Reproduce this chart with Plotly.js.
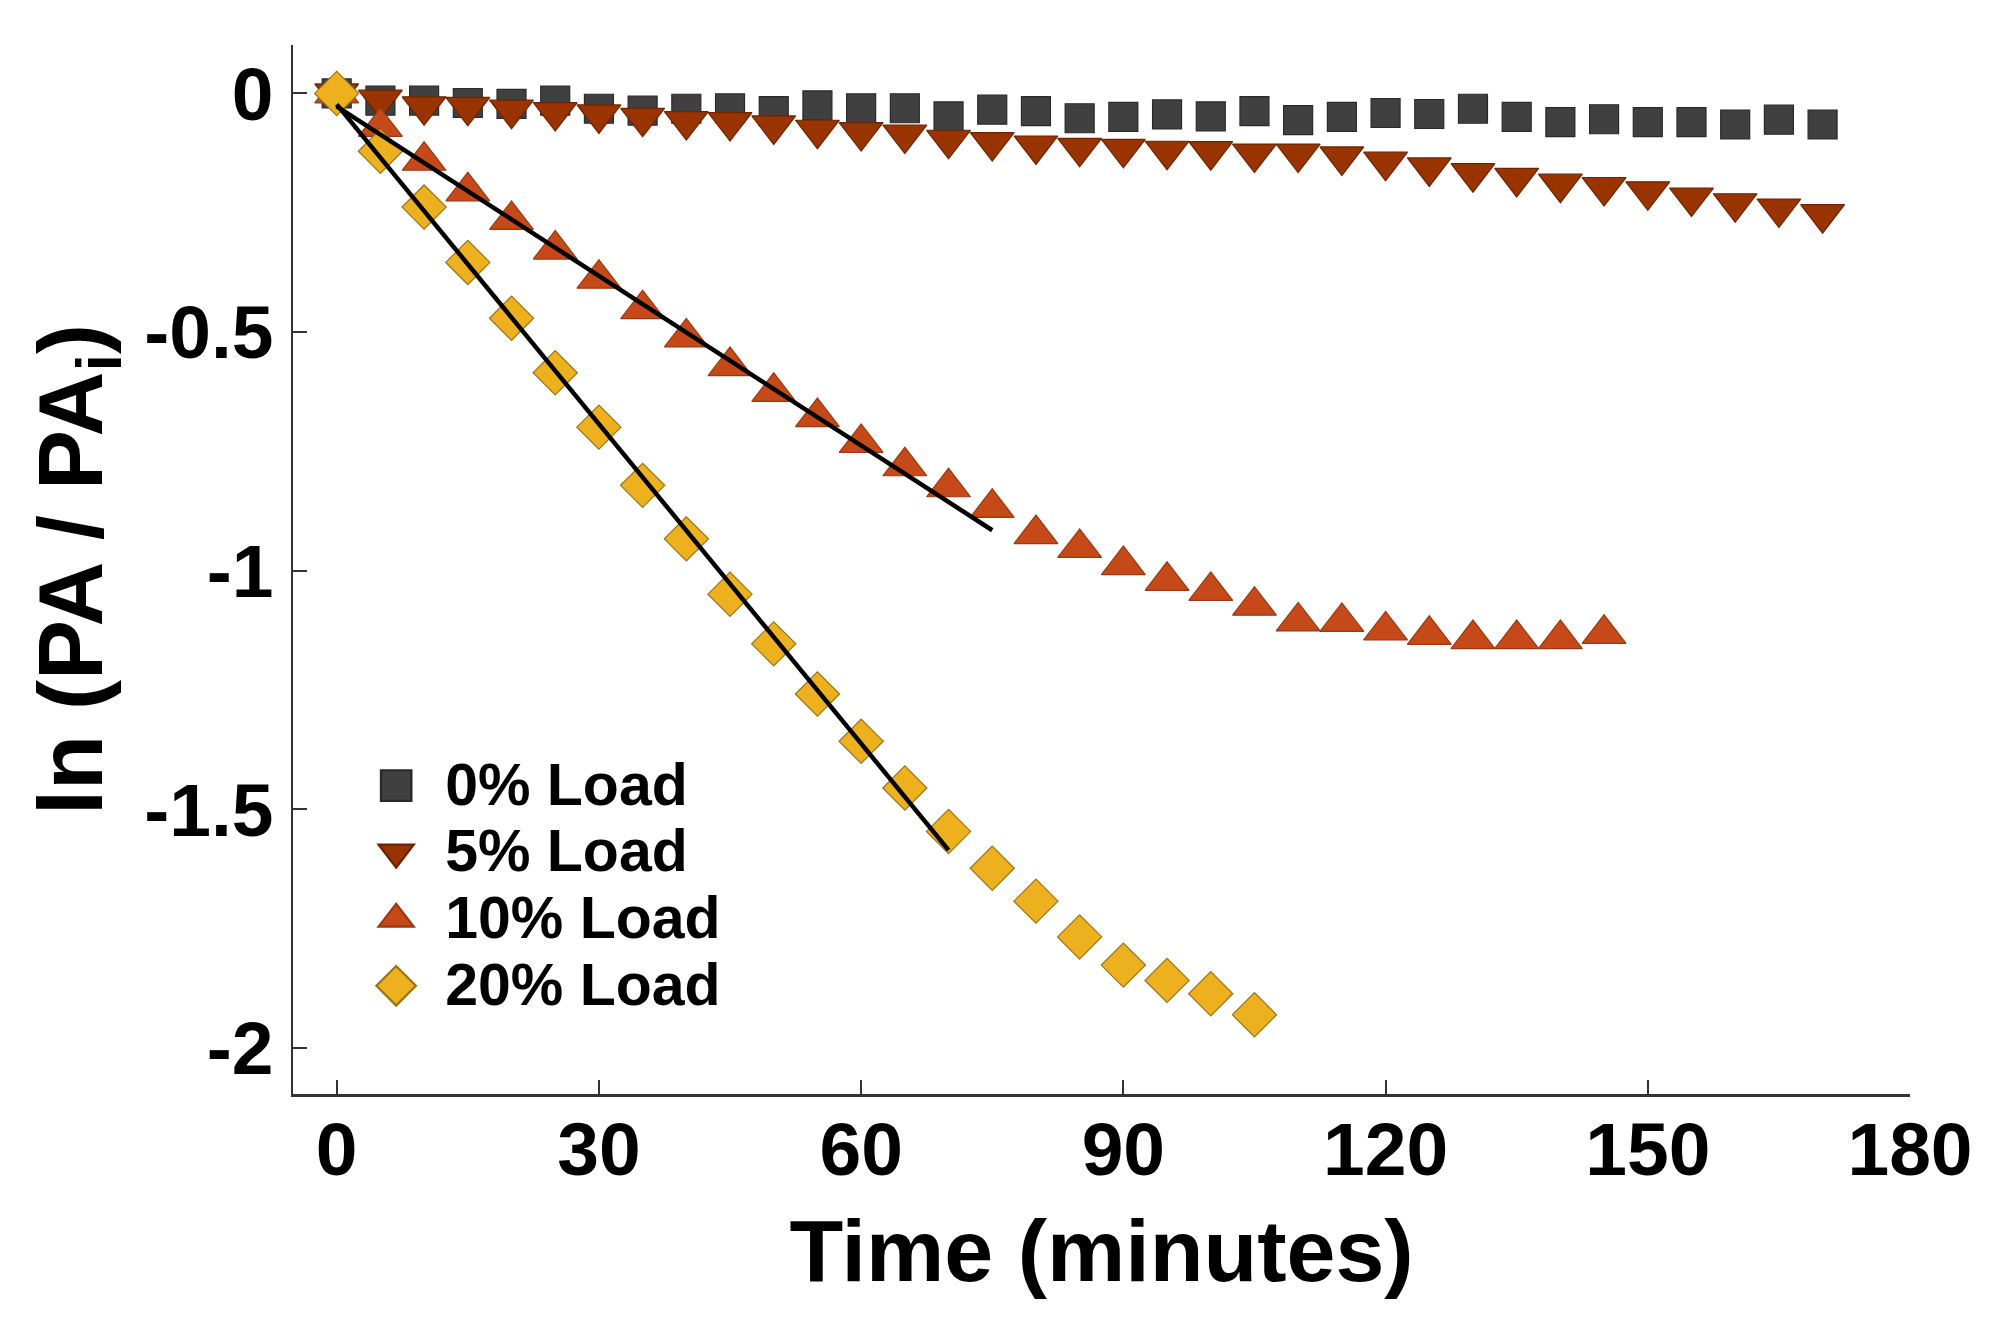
<!DOCTYPE html>
<html>
<head>
<meta charset="utf-8">
<script src="https://cdn.plot.ly/plotly-3.0.1.min.js"></script>
<style>
  html, body {margin: 0; padding: 0; background: #fff;}
  #chart {width: 1991px; height: 1337px;}
</style>
</head>
<body>
<div id="chart"></div>
<script>
// time in minutes, one sample every 5 min
var time0 = [0, 5, 10, 15, 20, 25, 30, 35, 40, 45, 50, 55, 60, 65, 70, 75, 80, 85,
             90, 95, 100, 105, 110, 115, 120, 125, 130, 135, 140, 145, 150, 155, 160, 165, 170];
var time5 = time0;
var time10 = [0, 5, 10, 15, 20, 25, 30, 35, 40, 45, 50, 55, 60, 65, 70, 75, 80, 85,
              90, 95, 100, 105, 110, 115, 120, 125, 130, 135, 140, 145];
var time20 = [0, 5, 10, 15, 20, 25, 30, 35, 40, 45, 50, 55, 60, 65, 70, 75, 80, 85,
              90, 95, 100, 105];

// ln(PA / PAi)
var load0 = [0, -0.015, -0.015, -0.020, -0.022, -0.015, -0.032, -0.036, -0.032, -0.031,
             -0.037, -0.025, -0.031, -0.031, -0.048, -0.034, -0.037, -0.052, -0.049, -0.044,
             -0.048, -0.037, -0.056, -0.049, -0.041, -0.043, -0.032, -0.049, -0.060, -0.054,
             -0.060, -0.060, -0.065, -0.055, -0.065];
var load5 = [0, -0.013, -0.027, -0.028, -0.034, -0.039, -0.044, -0.051, -0.058, -0.060,
             -0.067, -0.076, -0.081, -0.086, -0.097, -0.102, -0.109, -0.114, -0.116, -0.120,
             -0.121, -0.126, -0.126, -0.132, -0.143, -0.155, -0.167, -0.177, -0.189, -0.196,
             -0.205, -0.218, -0.230, -0.241, -0.253];
var load10 = [0, -0.070, -0.141, -0.205, -0.265, -0.327, -0.388, -0.452, -0.511, -0.571,
              -0.625, -0.678, -0.732, -0.781, -0.825, -0.868, -0.923, -0.952, -0.988, -1.021,
              -1.042, -1.073, -1.106, -1.107, -1.125, -1.134, -1.143, -1.143, -1.143, -1.132];
var load20 = [0, -0.121, -0.238, -0.354, -0.471, -0.585, -0.699, -0.821, -0.933, -1.049,
              -1.153, -1.258, -1.357, -1.455, -1.546, -1.623, -1.692, -1.767, -1.826, -1.858,
              -1.886, -1.930];

// linear fits (end points)
var fit10x = [0, 75];
var fit10y = [-0.027, -0.915];
var fit20x = [0, 70];
var fit20y = [-0.023, -1.585];

var names = ['0% Load', '5% Load', '10% Load', '20% Load'];

var FONT = 'Liberation Sans, Arial, sans-serif';

// legend rows are spaced from legend.font.size, the label itself is drawn a bit bigger
function label(s) {
   return '<span style="font-size:59px">' + s + '</span>';
}

function pts(x, y, name, symbol, size, color, edge) {
   return {x: x, y: y, type: 'scatter', mode: 'markers', name: label(name),
           marker: {symbol: symbol, size: size, color: color,
                    line: {color: edge, width: 1.2}}};
}
function fit(x, y) {
   return {x: x, y: y, type: 'scatter', mode: 'lines', showlegend: false,
           line: {color: '#000', width: 4.5}, hoverinfo: 'skip'};
}

var data = [
   pts(time0, load0, names[0], 'square', 29, '#404040', '#2a2a2a'),
   pts(time5, load5, names[1], 'triangle-down', 38, '#993300', '#6e2400'),
   pts(time10, load10, names[2], 'triangle-up', 38, '#c64a19', '#9c3810'),
   pts(time20, load20, names[3], 'diamond', 34, '#edb120', '#9a7418'),
   fit(fit10x, fit10y),
   fit(fit20x, fit20y)
];

var layout = {
   width: 1991, height: 1337,
   margin: {l: 293, r: 81, t: 45, b: 243},
   paper_bgcolor: '#fff', plot_bgcolor: '#fff',
   font: {family: FONT, color: '#000', weight: 'bold'},
   showlegend: true,
   legend: {x: 0.0335, y: 0.3305, xanchor: 'left', yanchor: 'top',
            itemwidth: 88, bgcolor: 'rgba(0,0,0,0)',
            font: {size: 49, family: FONT, weight: 'bold', color: '#000'}},
   xaxis: {
      range: [-5, 180], tickvals: [0, 30, 60, 90, 120, 150, 180],
      showgrid: false, zeroline: false,
      showline: true, linecolor: '#333', linewidth: 2.5, mirror: false,
      ticks: 'inside', ticklen: 14, tickwidth: 2, tickcolor: '#333',
      tickfont: {size: 75, family: FONT, weight: 'bold'},
      ticklabelstandoff: -12,
      title: {text: 'Time (minutes)', standoff: 30,
              font: {size: 88, family: FONT, weight: 'bold'}}
   },
   yaxis: {
      range: [-2.096, 0.1015], tickvals: [0, -0.5, -1, -1.5, -2],
      ticktext: ['0', '-0.5', '-1', '-1.5', '-2'],
      showgrid: false, zeroline: false,
      showline: true, linecolor: '#333', linewidth: 2.5, mirror: false,
      ticks: 'inside', ticklen: 14, tickwidth: 2, tickcolor: '#333',
      tickfont: {size: 75, family: FONT, weight: 'bold'},
      ticklabelstandoff: 2,
      title: {text: 'ln (PA / PA<sub>i</sub>)', standoff: 12,
              font: {size: 90, family: FONT, weight: 'bold'}}
   }
};

Plotly.newPlot('chart', data, layout, {displayModeBar: false, staticPlot: true}).then(function (gd) {
   // legend symbols are capped at 16px by plotly; enlarge them to match the plot markers
   var syms = gd.querySelectorAll('.legend .legendpoints path.scatterpts');
   for (var i = 0; i < syms.length; i++) {
      var t = syms[i].getAttribute('transform') || '';
      syms[i].setAttribute('transform', t + ' scale(1.9)');
   }
});
</script>
</body>
</html>
